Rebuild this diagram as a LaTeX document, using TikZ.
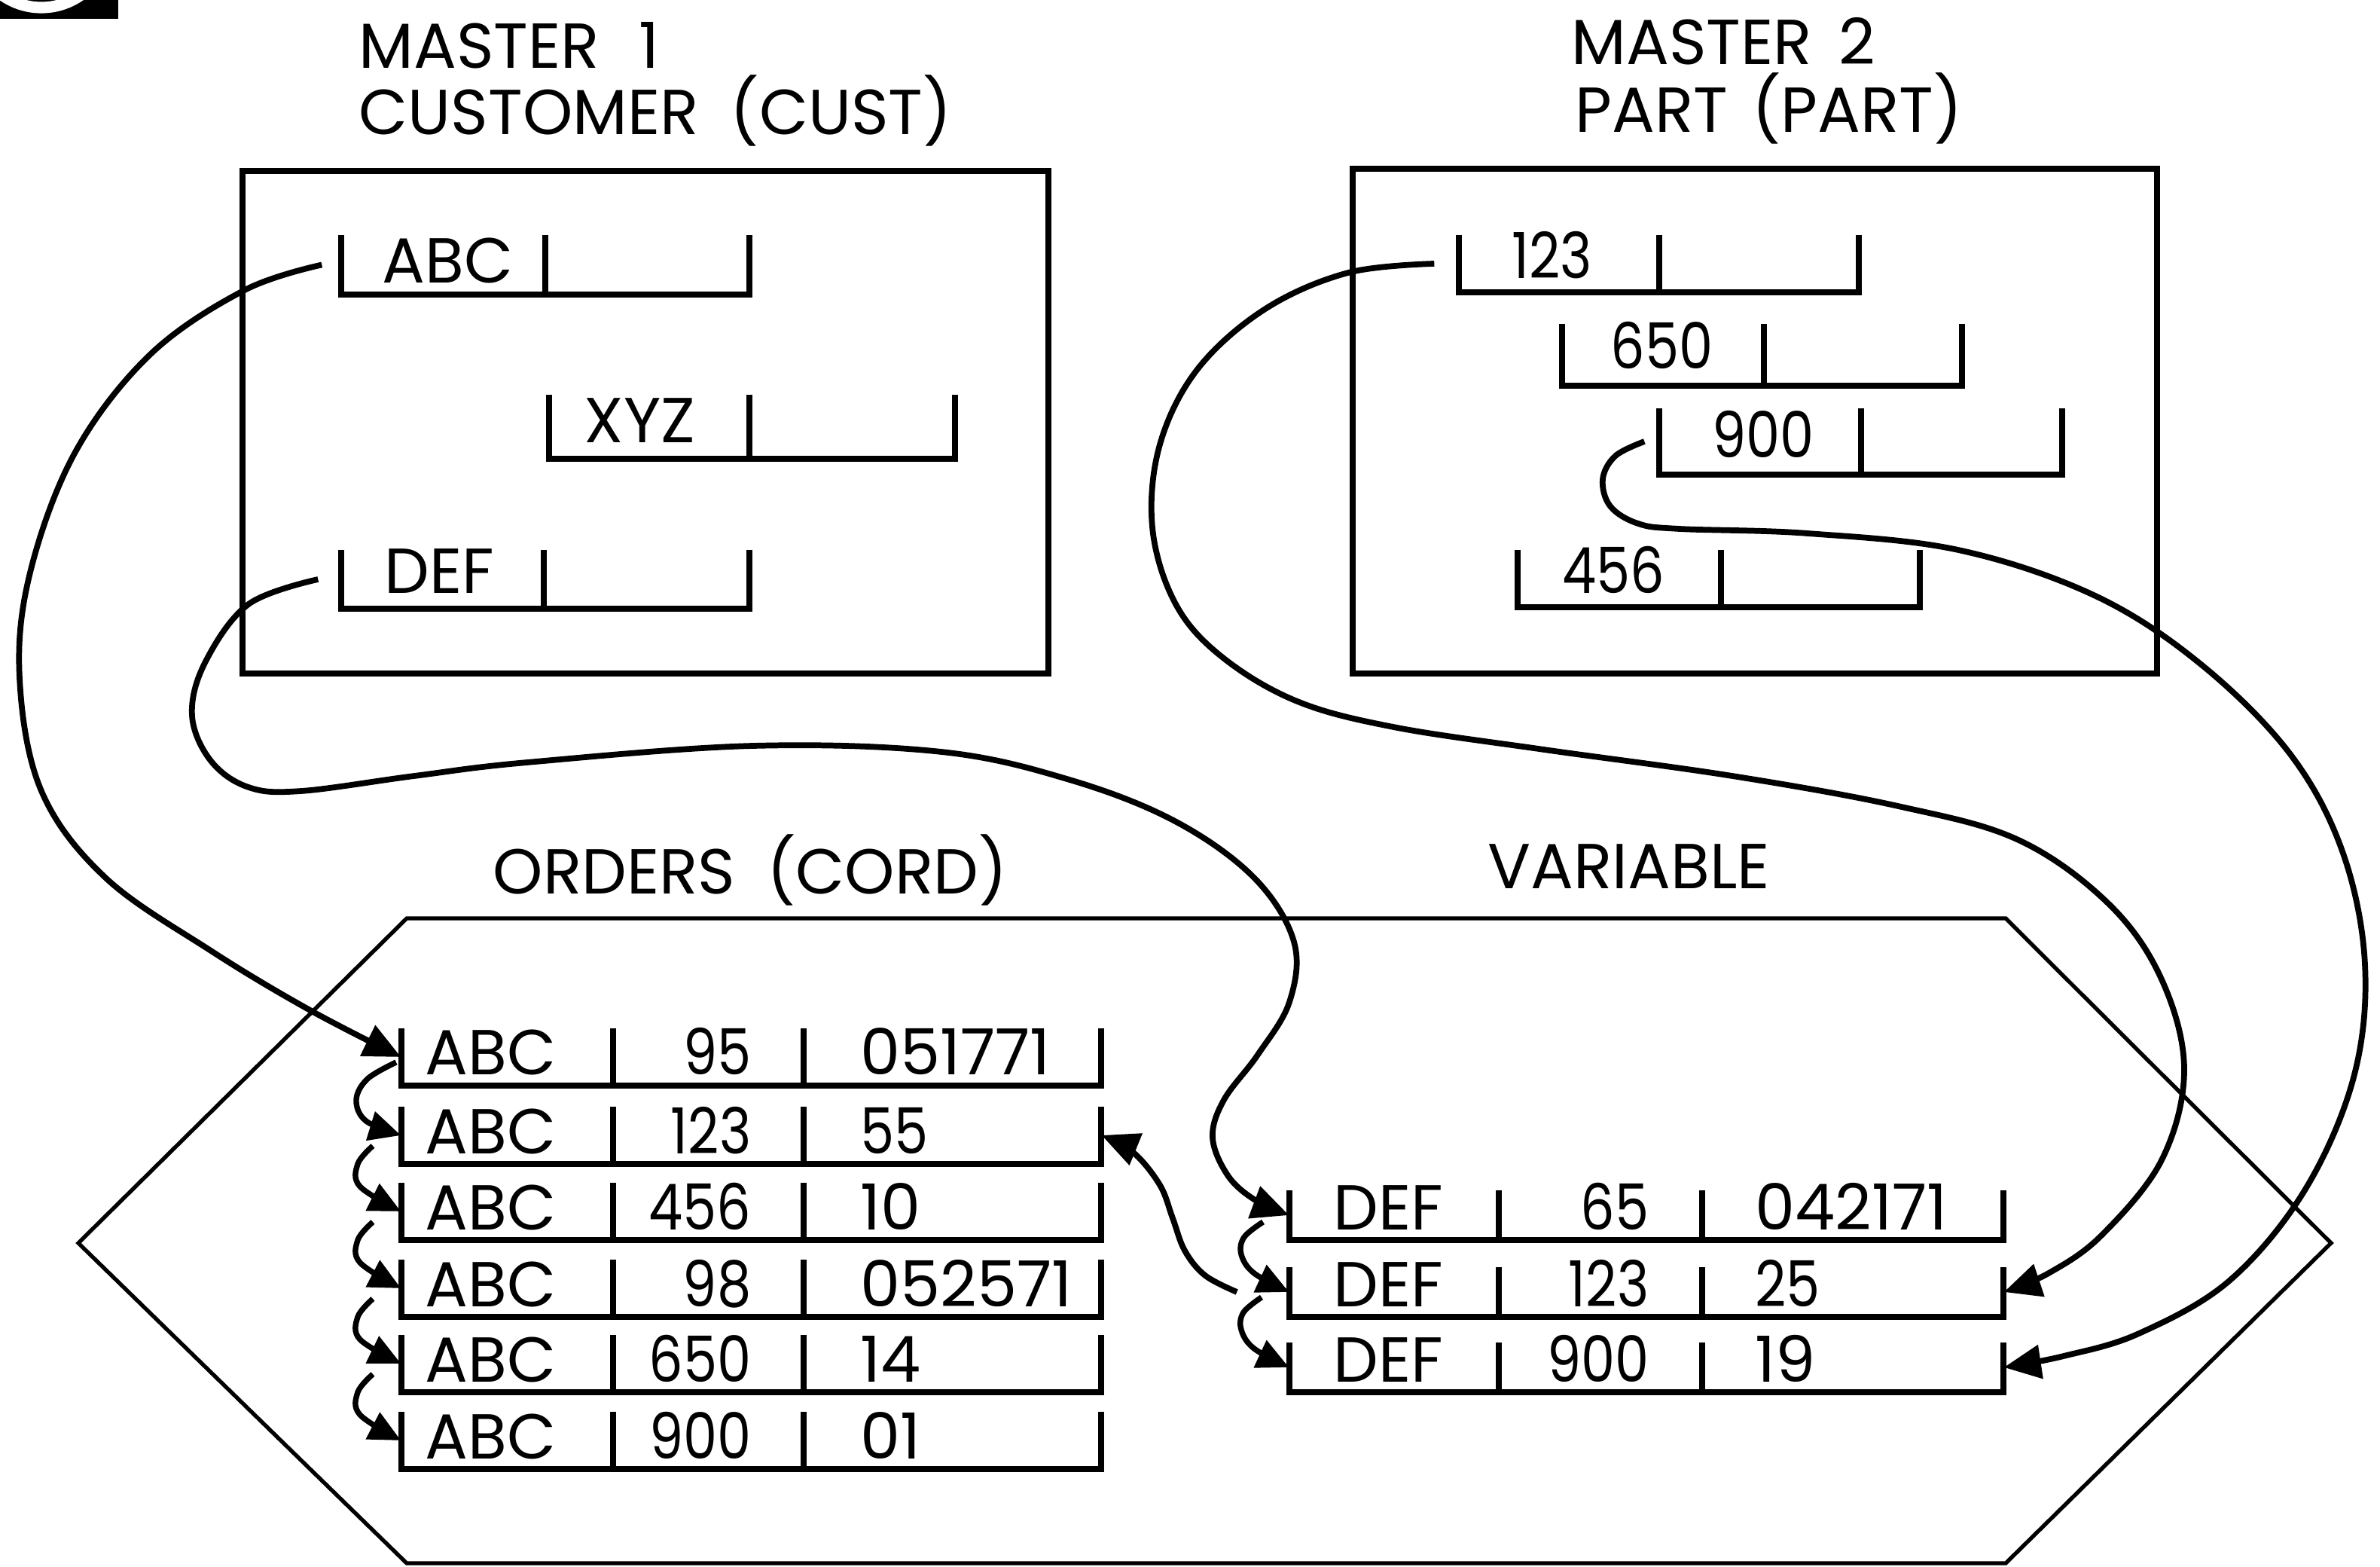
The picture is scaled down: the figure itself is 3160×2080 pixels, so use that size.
\documentclass[tikz,border=0pt]{standalone}
\usepackage{fontspec}
\setmainfont{Poppins}
\newfontfamily\numfont[FakeStretch=0.85]{Poppins}
\usetikzlibrary{arrows.meta,fit}
\tikzset{
  box/.style={line width=2.2pt, line join=miter},
  hexa/.style={line width=1.5pt, line join=miter},
  recline/.style={line width=2.2pt, line join=miter},
  lbl/.style={inner sep=0pt, anchor=base west, font=\fontsize{24pt}{28pt}\selectfont},
  lblr/.style={lbl, anchor=base east},
  link/.style={line width=2.2pt, -{Triangle[length=14pt,width=12.5pt]}},
  chainlink/.style={line width=2.1pt, -{Triangle[length=12pt,width=11pt]}},
  recnode/.style={inner sep=0pt, draw=none}
}
% record: name, left, right, top, bottom, dividers
\newcommand{\record}[6]{%
  \node[recnode, fit={(#2,#4) (#3,#5)}] (#1) {};
  \draw[recline] (#2,#4) |- (#3,#5) -- (#3,#4);
  \foreach \dv in {#6} {\draw[recline] (\dv,#4) -- (\dv,#5);}
}
\newcommand{\orow}[5]{%
  \record{#1}{533}{1462}{#2-76}{#2}{814,1067}
  \node[lbl] (#1-a) at (564,#2-14) {#3};
  \node[lblr] (#1-b) at (998,#2-14) {#4};
  \node[lbl] (#1-c) at (1142,#2-14) {#5};
}
\newcommand{\vrow}[5]{%
  \record{#1}{1712}{2660}{#2-66}{#2}{1990,2260}
  \node[lbl] (#1-a) at (1770,#2-14) {#3};
  \node[lblr] (#1-b) at (2190,#2-14) {#4};
  \node[lbl] (#1-c) at (2330,#2-14) {#5};
}
\begin{document}
\begin{tikzpicture}[x=0.01cm, y=-0.01cm]
\useasboundingbox (0,0) rectangle (3160,2080);

% corner logo fragment
\fill[black] (0,0) rectangle (157,25);
\begin{scope}
  \clip (0,0) rectangle (157,25);
  \draw[white, line width=4.3pt] (55,-80) circle[radius=0.9cm];
\end{scope}

% titles
\node[lbl] (tm1) at (476,91) {MASTER\hspace{15pt}1};
\node[lbl] (tc1) at (476,179) {CUSTOMER\hspace{12pt}(CUST)};
\node[lbl] (tm2) at (2086,86) {MASTER\hspace{10pt}2};
\node[lbl] (tp2) at (2091,176) {PART\hspace{9pt}(PART)};
\node[lbl] (tord) at (654,1187) {ORDERS\hspace{12pt}(CORD)};
\node[lbl] (tvar) at (1975,1180) {VARIABLE};

% master boxes
\draw[box] (322,227) rectangle (1392,894);
\draw[box] (1796,224) rectangle (2864,894);

% hexagon
\draw[hexa] (540,1219) -- (2663,1219) -- (3095,1650) -- (2663,2075) -- (540,2075) -- (104,1650) -- cycle;

% master 1 records
\record{m1abc}{453}{995}{312}{391}{724}
\node[lbl] (m1abc-a) at (507,376) {ABC};
\record{m1xyz}{729}{1268}{524}{609}{995}
\node[lbl] (m1xyz-a) at (775,588) {XYZ};
\record{m1def}{453}{995}{730}{808}{722}
\node[lbl] (m1def-a) at (510,788) {DEF};

% master 2 records
\record{p123}{1937}{2468}{312}{388}{2203}
\node[lbl] (p123-a) at (2007,370) {\numfont 123};
\record{p650}{2074}{2605}{430}{512}{2342}
\node[lbl] (p650-a) at (2138,490) {\numfont 650};
\record{p900}{2203}{2738}{542}{630}{2471}
\node[lbl] (p900-a) at (2273,608) {\numfont 900};
\record{p456}{2015}{2549}{730}{806}{2285}
\node[lbl] (p456-a) at (2074,788) {\numfont 456};

% orders rows
\orow{o1}{1441}{ABC}{\numfont 95}{051771}
\orow{o2}{1545}{ABC}{\numfont 123}{\numfont 55}
\orow{o3}{1646}{ABC}{\numfont 456}{10}
\orow{o4}{1748}{ABC}{\numfont 98}{052571}
\orow{o5}{1848}{ABC}{\numfont 650}{14}
\orow{o6}{1950}{ABC}{\numfont 900}{01}

% variable rows
\vrow{v1}{1646}{DEF}{\numfont 65}{042171}
\vrow{v2}{1748}{DEF}{\numfont 123}{\numfont 25}
\vrow{v3}{1848}{DEF}{\numfont 900}{19}

% connector start points
\coordinate (aS) at ([xshift=-0.25cm]m1abc.west);
\coordinate (bS) at ([xshift=-0.30cm]m1def.west);
\coordinate (cS) at ([xshift=-0.32cm]p123.west);
\coordinate (dS) at ([xshift=-0.19cm]p900.west);
\coordinate (eS) at ([xshift=-0.69cm]v2.west);

% A: master1 ABC -> orders row 1
\draw[link] plot[smooth, tension=0.6] coordinates {(aS) (325,385) (200,470) (100,600) (40,760) (26,900) (55,1050) (140,1165) (280,1262) (410,1340) (o1.west)};
% B: master1 DEF -> variable row 1
\draw[link] plot[smooth, tension=0.6] coordinates {(bS) (330,802) (272,880) (255,950) (280,1010) (330,1045) (400,1050) (550,1030) (700,1012) (1000,990) (1250,998) (1420,1035) (1560,1090) (1665,1165) (1718,1250) (1712,1330) (1670,1400) (1625,1460) (1610,1510) (1630,1560) (1665,1592) (v1.west)};
% C: master2 123 -> variable row 2
\draw[link] plot[smooth, tension=0.6] coordinates {(cS) (1790,362) (1680,410) (1590,490) (1540,590) (1530,700) (1560,800) (1620,870) (1720,930) (1850,965) (2050,995) (2300,1030) (2520,1070) (2680,1115) (2800,1200) (2870,1300) (2900,1420) (2870,1540) (2790,1640) (2720,1690) (v2.east)};
% D: master2 900 -> variable row 3
\draw[link] plot[smooth, tension=0.6] coordinates {(dS) (2145,605) (2128,636) (2138,672) (2175,695) (2230,702) (2400,708) (2600,730) (2780,790) (2920,880) (3040,1000) (3110,1130) (3140,1280) (3125,1430) (3060,1580) (2960,1700) (2840,1770) (2740,1800) (v3.east)};
% E: variable row 2 -> orders row 2
\draw[link] plot[smooth, tension=0.6] coordinates {(eS) (1600,1693) (1573,1660) (1557,1617) (1540,1573) (1505,1530) (o2.east)};

% chain arrows, orders
\coordinate (k1) at (526,1410);
\coordinate (k2) at (495,1521);
\coordinate (k3) at (495,1622);
\coordinate (k4) at (495,1724);
\coordinate (k5) at (495,1824);
\draw[chainlink] plot[smooth, tension=0.6] coordinates {(k1) (488,1432) (473,1460) (486,1488) (o2.west)};
\draw[chainlink] plot[smooth, tension=0.6] coordinates {(k2) (475,1545) (478,1575) (o3.west)};
\draw[chainlink] plot[smooth, tension=0.6] coordinates {(k3) (475,1646) (478,1676) (o4.west)};
\draw[chainlink] plot[smooth, tension=0.6] coordinates {(k4) (475,1748) (478,1778) (o5.west)};
\draw[chainlink] plot[smooth, tension=0.6] coordinates {(k5) (475,1848) (478,1878) (o6.west)};

% chain arrows, variable
\coordinate (j1) at (1677,1622);
\coordinate (j2) at (1675,1722);
\draw[chainlink] plot[smooth, tension=0.6] coordinates {(j1) (1652,1642) (1648,1665) (1665,1690) (v2.west)};
\draw[chainlink] plot[smooth, tension=0.6] coordinates {(j2) (1651,1742) (1648,1765) (1665,1790) (v3.west)};
\end{tikzpicture}
\end{document}
